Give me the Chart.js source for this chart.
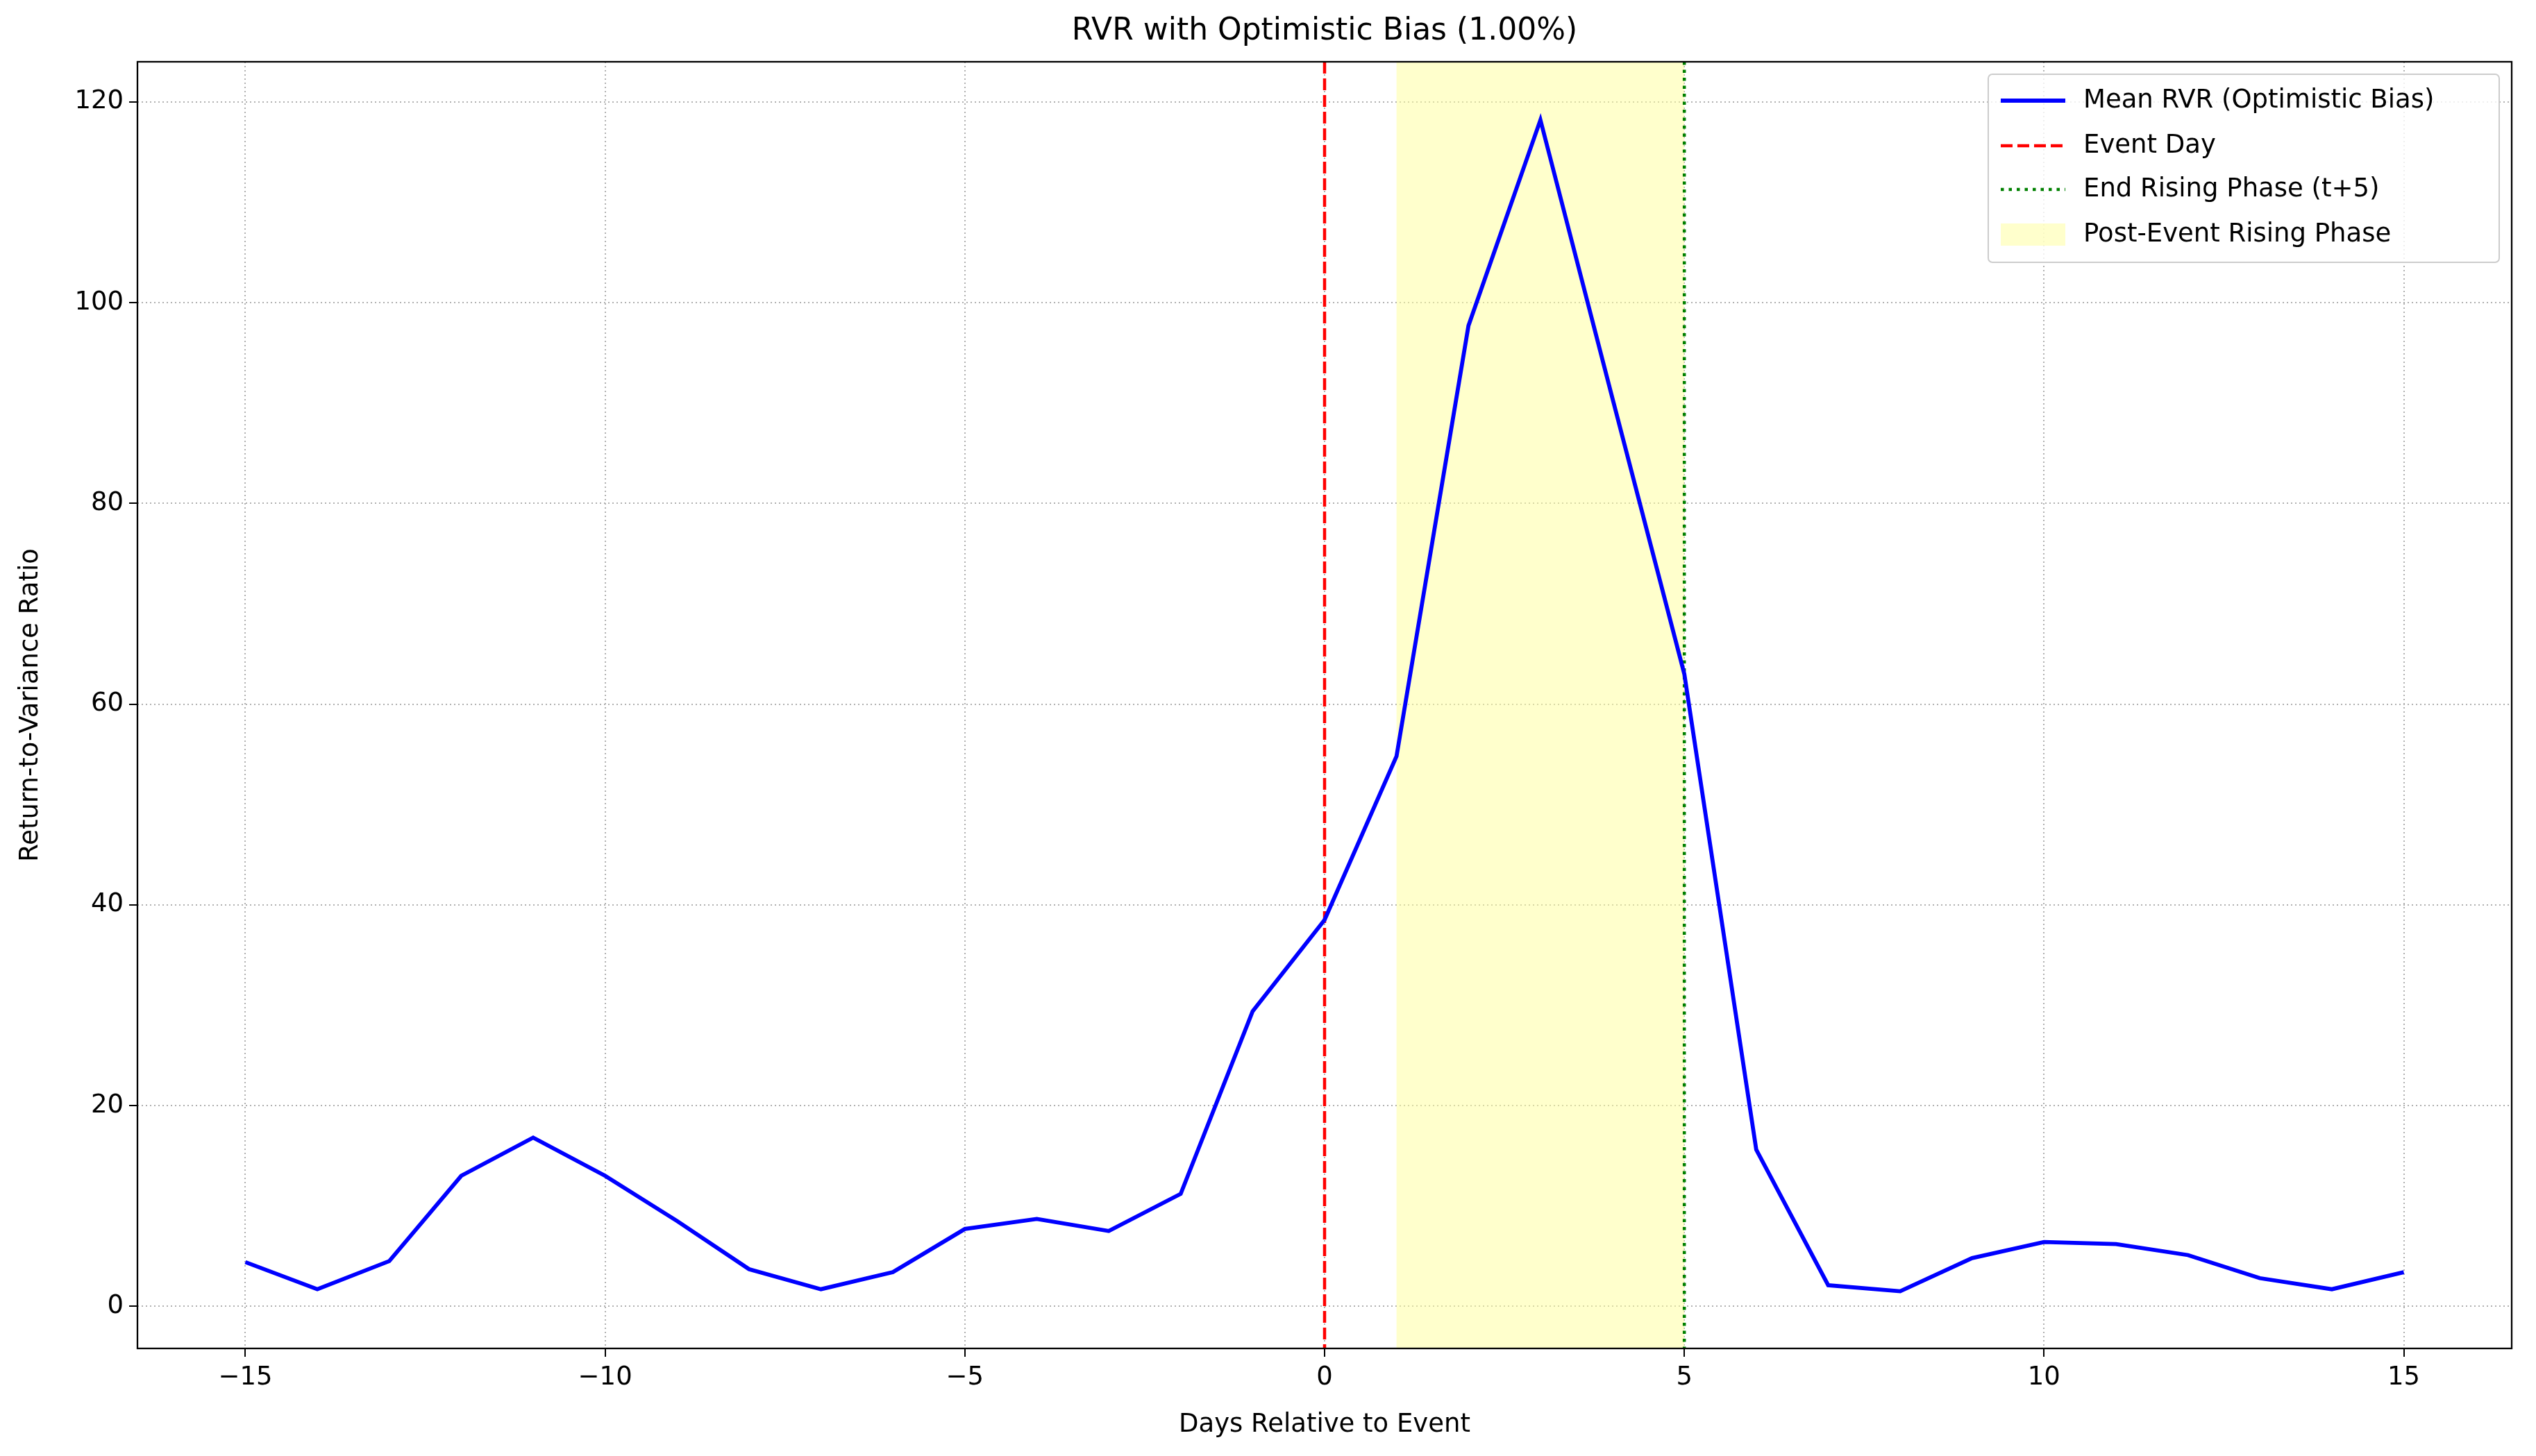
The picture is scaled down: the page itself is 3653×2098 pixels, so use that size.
<!DOCTYPE html>
<html><head><meta charset="utf-8">
<script src="https://cdn.jsdelivr.net/npm/chart.js@4"></script>
<style>html,body{margin:0;padding:0;background:#fff}#c{display:block}</style>
</head><body>
<canvas id="c" width="3653" height="2098"></canvas>
<script>
const days = [-15,-14,-13,-12,-11,-10,-9,-8,-7,-6,-5,-4,-3,-2,-1,0,1,2,3,4,5,6,7,8,9,10,11,12,13,14,15];
const rvr = [4.4,1.7,4.5,13.0,16.8,13.0,8.5,3.7,1.7,3.4,7.7,8.7,7.5,11.2,29.4,38.5,54.8,97.7,118.2,90.5,63.0,15.6,2.1,1.5,4.8,6.4,6.2,5.1,2.8,1.7,3.4];
const xTicks = [-15,-10,-5,0,5,10,15];
const yTicks = [0,20,40,60,80,100,120];
const eventDay = 0, endRise = 5, shadeStart = 1, shadeEnd = 5;
const legendLabels = ['Mean RVR (Optimistic Bias)','Event Day','End Rising Phase (t+5)','Post-Event Rising Phase'];
const FONT = 'DejaVu Sans';
const minus = v => String(v).replace('-', '\u2212');

const extras = {
  id:'extras',
  beforeDatasetsDraw(ch){
    const {ctx, chartArea:a, scales:{x,y}} = ch;
    ctx.save();
    ctx.fillStyle = 'rgba(255,255,153,0.5)';
    ctx.fillRect(x.getPixelForValue(shadeStart), a.top, x.getPixelForValue(shadeEnd)-x.getPixelForValue(shadeStart), a.bottom-a.top);
    ctx.lineWidth = 4.5;
    ctx.strokeStyle = '#ff0000'; ctx.setLineDash([17,7]);
    let px = x.getPixelForValue(eventDay);
    ctx.beginPath(); ctx.moveTo(px,a.top); ctx.lineTo(px,a.bottom); ctx.stroke();
    ctx.strokeStyle = '#008000'; ctx.setLineDash([4.5,7]);
    px = x.getPixelForValue(endRise);
    ctx.beginPath(); ctx.moveTo(px,a.top); ctx.lineTo(px,a.bottom); ctx.stroke();
    ctx.restore();
  },
  afterDraw(ch){
    const {ctx, chartArea:a} = ch;
    ctx.save();
    ctx.strokeStyle='#000'; ctx.lineWidth=2.3; ctx.setLineDash([]);
    ctx.strokeRect(a.left,a.top,a.right-a.left,a.bottom-a.top);
    ctx.fillStyle='#000'; ctx.font='44px '+FONT; ctx.textAlign='center'; ctx.textBaseline='middle';
    ctx.fillText('RVR with Optimistic Bias (1.00%)', (a.left+a.right)/2, 46);
    // legend
    const bx=2864, by=107, bw=736, bh=271;
    ctx.fillStyle='rgba(255,255,255,0.8)'; ctx.strokeStyle='#cccccc'; ctx.lineWidth=2;
    ctx.beginPath(); ctx.roundRect(bx,by,bw,bh,6); ctx.fill(); ctx.stroke();
    const rows=[145,210,273,338];
    ctx.font='37px '+FONT; ctx.textAlign='left';
    rows.forEach((ry,i)=>{
      ctx.fillStyle='#000'; ctx.fillText(legendLabels[i], 3001, ry);
      if(i===3){ ctx.fillStyle='rgba(255,255,153,0.5)'; ctx.fillRect(2882, ry-16, 93, 32); return; }
      ctx.lineWidth = i===0?5.8:4.5;
      ctx.strokeStyle = ['#0000ff','#ff0000','#008000'][i];
      ctx.setLineDash(i===0?[]:(i===1?[17,7]:[4.5,7]));
      ctx.beginPath(); ctx.moveTo(2882,ry); ctx.lineTo(2975,ry); ctx.stroke();
    });
    ctx.restore();
  }
};

new Chart(document.getElementById('c'), {
  type:'line',
  data:{datasets:[{data:days.map((d,i)=>({x:d,y:rvr[i]})), borderColor:'#0000ff', borderWidth:5.8, pointRadius:0, tension:0, fill:false}]},
  options:{
    responsive:false, animation:false, devicePixelRatio:1,
    layout:{padding:{top:89,right:35,left:0,bottom:0}},
    plugins:{legend:{display:false}, tooltip:{enabled:false}},
    scales:{
      x:{type:'linear', min:-16.5, max:16.5,
        afterBuildTicks:s=>{s.ticks=xTicks.map(v=>({value:v}));},
        afterFit:s=>{s.height=155;},
        ticks:{callback:v=>minus(v), color:'#000', font:{family:FONT,size:37}, padding:8, maxRotation:0},
        grid:{color:'#b0b0b0', lineWidth:2, tickLength:12, tickColor:'#000', tickWidth:2},
        border:{display:false, dash:[2,4]},
        title:{display:true, text:'Days Relative to Event', color:'#000', font:{family:FONT,size:37}, padding:{top:4,bottom:22}}
      },
      y:{type:'linear', min:-4.2, max:124,
        afterBuildTicks:s=>{s.ticks=yTicks.map(v=>({value:v}));},
        afterFit:s=>{s.width=198;},
        ticks:{callback:v=>minus(v), color:'#000', font:{family:FONT,size:37}, padding:8},
        grid:{color:'#b0b0b0', lineWidth:2, tickLength:12, tickColor:'#000', tickWidth:2},
        border:{display:false, dash:[2,4]},
        title:{display:true, text:'Return-to-Variance Ratio', color:'#000', font:{family:FONT,size:37}, padding:{top:22,bottom:10}}
      }
    }
  },
  plugins:[extras]
});
</script>
</body></html>
